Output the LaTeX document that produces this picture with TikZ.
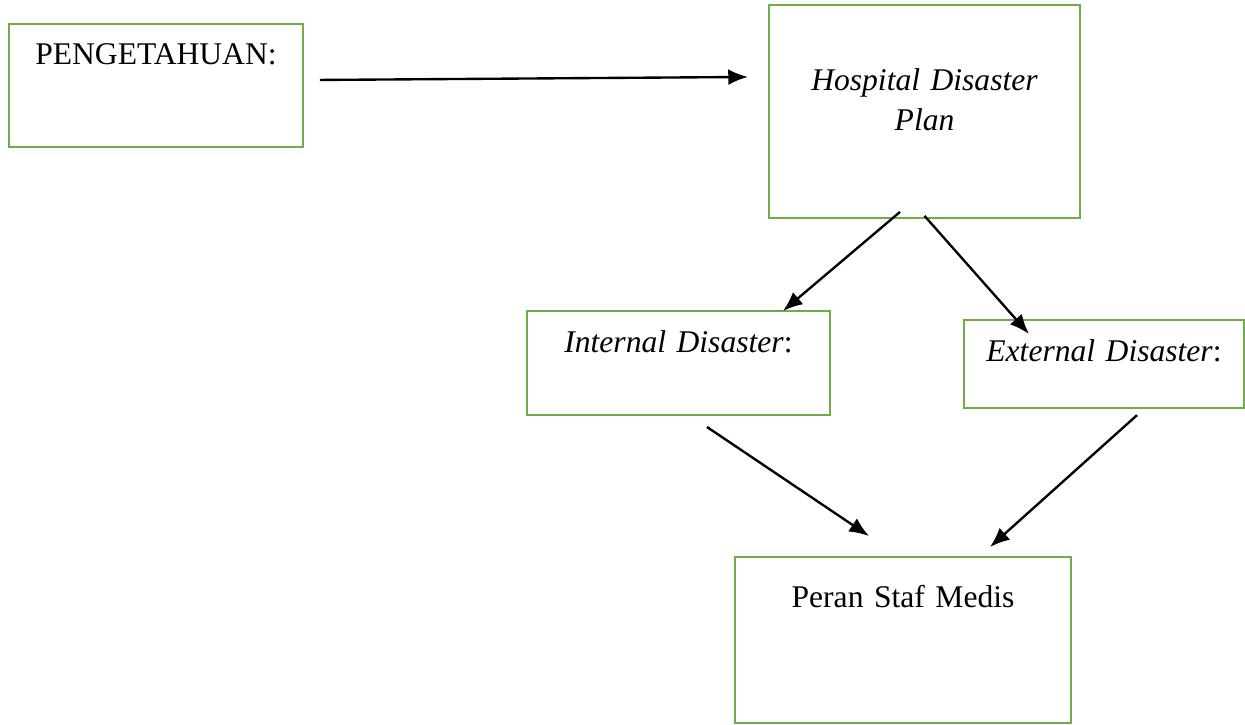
\documentclass[tikz,border=0pt]{standalone}
\usepackage{fontspec}
\setmainfont{Liberation Serif}
\usetikzlibrary{arrows.meta}

\definecolor{boxgreen}{RGB}{112,173,71}

\begin{document}
\begin{tikzpicture}[x=0.38pt,y=-0.38pt,
    box/.style={draw=boxgreen,line width=1pt,inner sep=0pt,outer sep=0pt,
        align=center,anchor=north west,font=\fontsize{12pt}{15.2pt}\selectfont},
    arr/.style={-{Latex[length=7.5pt,width=6pt]},line width=0.9pt}]
\useasboundingbox (0,0) rectangle (1245,724);

% Boxes
\node[box,text width=111.7pt,text height=15.2pt,text depth=31.5pt] (peng) at (9,24) {PENGETAHUAN:};
\node[box,text width=118.2pt,text height=32.3pt,text depth=48.6pt] (hdp) at (769,5) {\textit{Hospital Disaster}\\\textit{Plan}};
\node[box,text width=115.1pt,text height=15.6pt,text depth=23.9pt] (intd) at (527,311) {\textit{Internal Disaster}:};
\node[box,text width=106.4pt,text height=15.6pt,text depth=17.9pt] (extd) at (964,320) {\textit{External Disaster}:};
\node[box,text width=127.7pt,text height=19pt,text depth=44.1pt] (peran) at (735,557) {Peran Staf Medis};

% Arrows
\draw[arr] ([shift={(17,-5.5)}]peng.east) -- ([shift={(-21,-34.5)}]hdp.west);
\draw[arr] ([shift={(-24.5,-6)}]hdp.south) -- ([shift={(104.5,0)}]intd.north);
\draw[arr] ([shift={(0,-2)}]hdp.south) -- ([shift={(-75,14)}]extd.north);
\draw[arr] ([shift={(28.5,12)}]intd.south) -- ([shift={(-34,-21)}]peran.north);
\draw[arr] ([shift={(33,7)}]extd.south) -- ([shift={(87,-10)}]peran.north);

\end{tikzpicture}
\end{document}
